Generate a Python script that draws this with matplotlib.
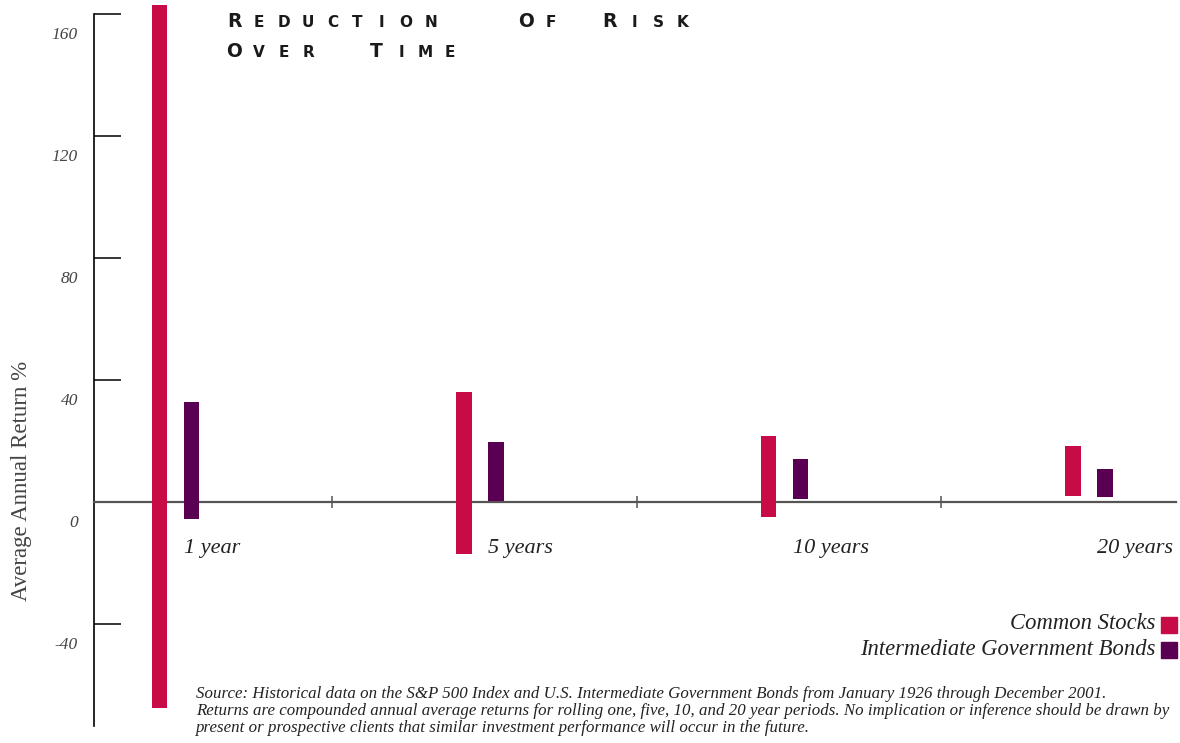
import matplotlib
matplotlib.use("Agg")
import matplotlib.pyplot as plt
from matplotlib.transforms import ScaledTranslation
from matplotlib.patches import Rectangle
import numpy as np

# rolling-period return ranges (high / low), percent
periods = ["1 year", "5 years", "10 years", "20 years"]
stocks_high = [162.9, 36.1, 21.6, 18.4]
stocks_low = [-67.6, -17.2, -5.0, 1.8]
bonds_high = [32.9, 19.8, 14.0, 10.7]
bonds_low = [-5.6, 0.4, 1.1, 1.5]
y_ticks = [-40, 0, 40, 80, 120, 160]

series_names = ["Common Stocks", "Intermediate Government Bonds"]
RED = "#c60b46"
PURPLE = "#5a0052"
GREY = "#444444"
SERIF = ["Liberation Serif", "DejaVu Serif"]

fig = plt.figure(figsize=(11.8, 7.43), dpi=100)
W, H = 1180, 743
ax = fig.add_axes([94 / W, 16 / H, (1176 - 94) / W, (727 - 4) / H])
ax.set_xlim(-0.268, 3.286)
ax.set_ylim(-73.8, 163.3)

x = np.arange(len(periods))
bw = 0.051
off = 0.0525
s_hi, s_lo = np.array(stocks_high), np.array(stocks_low)
b_hi, b_lo = np.array(bonds_high), np.array(bonds_low)
ax.bar(x - off, s_hi - s_lo, bottom=s_lo, width=bw, color=RED, zorder=3)
ax.bar(x + off, b_hi - b_lo, bottom=b_lo, width=bw, color=PURPLE, zorder=3)

# axes lines
for s in ["top", "right"]:
    ax.spines[s].set_visible(False)
ax.spines["left"].set_bounds(-73.5, 160)
ax.spines["left"].set_linewidth(1.2)
ax.spines["bottom"].set_position(("data", 0))
ax.spines["bottom"].set_color("#555555")
ax.spines["bottom"].set_linewidth(1.6)

ax.set_yticks(y_ticks)
ax.set_yticklabels([str(v) for v in y_ticks])
ax.tick_params(axis="y", direction="in", length=19.5, width=1.1, color="black",
               pad=11.5, labelsize=12.5, labelcolor=GREY)
for lab in ax.get_yticklabels():
    lab.set_fontfamily(SERIF)
    lab.set_fontstyle("italic")
    lab.set_transform(lab.get_transform() + ScaledTranslation(0, -0.19, fig.dpi_scale_trans))

ax.set_xticks(x[:-1] + 0.515)
ax.set_xticklabels([])
ax.tick_params(axis="x", direction="inout", length=9, width=1.1, color="#555555")

# period labels under each pair
for i, name in enumerate(periods):
    ax.text(x[i] + off - bw / 2, -16.7, name, ha="left", va="baseline",
            fontsize=16, fontstyle="italic", family=SERIF, color="#222222")

fig.text(22 / W, 1 - 481 / H, "Average Annual Return %", rotation=90,
         ha="center", va="center", fontsize=16.5, family=SERIF, color=GREY)

# spaced small-caps title
def spaced_word(word, x0, y0, pitch=24.5):
    for k, ch in enumerate(word):
        size = 13.5 if k == 0 else 11
        fig.text((x0 + 6.5 + k * pitch) / W, 1 - y0 / H, ch, ha="center",
                 va="baseline", fontsize=size, fontweight="heavy",
                 family="DejaVu Sans", color="#1a1a1a")

for word, x0, y0 in [("REDUCTION", 228, 26.7), ("OF", 520, 26.7), ("RISK", 603, 26.7),
                     ("OVER", 228, 56.7), ("TIME", 370, 56.7)]:
    spaced_word(word, x0, y0)

# legend on the right
for name, col, yb, ytop in [(series_names[0], RED, 629, 616.5),
                            (series_names[1], PURPLE, 655, 641.5)]:
    fig.text(1155 / W, 1 - yb / H, name, ha="right", va="baseline",
             fontsize=16.3, fontstyle="italic", family=SERIF, color="#222222")
    fig.patches.append(Rectangle((1160.5 / W, 1 - (ytop + 16) / H), 16 / W, 16 / H,
                                 transform=fig.transFigure, color=col))

note = ("Source: Historical data on the S&P 500 Index and U.S. Intermediate Government Bonds from January 1926 through December 2001.\n"
        "Returns are compounded annual average returns for rolling one, five, 10, and 20 year periods. No implication or inference should be drawn by\n"
        "present or prospective clients that similar investment performance will occur in the future.")
fig.text(196 / W, 1 - 686 / H, note, ha="left", va="top", fontsize=12.2,
         fontstyle="italic", family=SERIF, color="#222222", linespacing=1.08)

fig.savefig("out.png", dpi=100)
